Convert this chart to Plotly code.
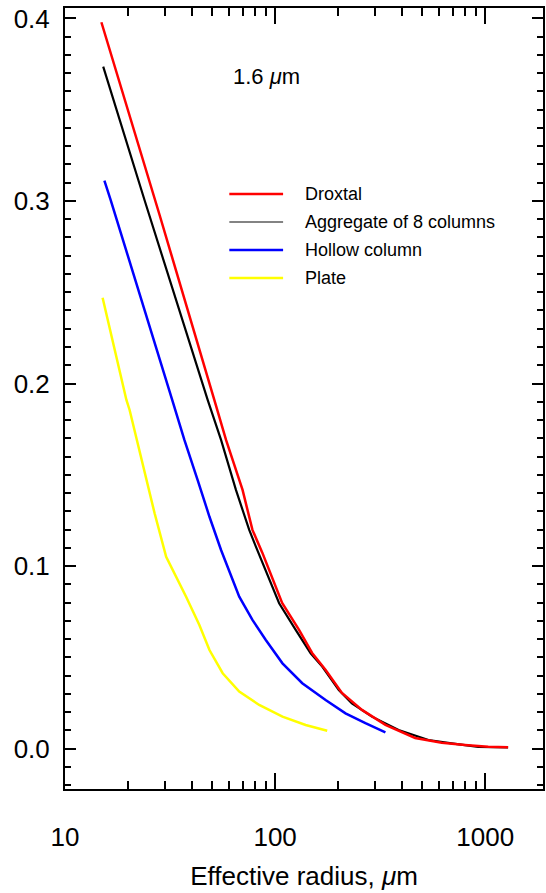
import plotly.graph_objects as go

# Effective radius (micrometres) and values for each ice-crystal habit at 1.6 um
droxtal_r = [14.9, 28.2, 51.4, 58.4, 70.0, 78.0, 87.0, 102.5, 108.0, 130.0, 150.0,
             174.0, 208.0, 259.0, 335.0, 464.0, 621.0, 801.0, 1033.0, 1285.0]
droxtal_v = [0.3979, 0.2923, 0.1909, 0.1691, 0.1417, 0.1198, 0.1072, 0.0869, 0.0798,
             0.0650, 0.0524, 0.0431, 0.0305, 0.0212, 0.0130, 0.0058, 0.0032, 0.0020,
             0.0010, 0.0007]

agg_r = [15.2, 23.9, 47.8, 55.3, 65.1, 75.3, 81.0, 98.9, 104.5, 125.3, 147.6,
         167.6, 201.0, 232.0, 289.0, 387.0, 537.0, 692.0, 927.0, 1285.0]
agg_v = [0.3736, 0.3005, 0.1909, 0.1691, 0.1417, 0.1198, 0.1106, 0.0869, 0.0796,
         0.0650, 0.0522, 0.0449, 0.0321, 0.0248, 0.0175, 0.0102, 0.0047, 0.0029,
         0.0010, 0.0007]

hollow_r = [15.4, 16.5, 32.4, 37.0, 42.8, 48.7, 55.3, 65.1, 67.5, 78.0, 90.3,
            108.4, 134.7, 173.9, 216.3, 269.0, 335.0]
hollow_v = [0.3111, 0.3005, 0.1909, 0.1691, 0.1471, 0.1270, 0.1088, 0.0869, 0.0832,
            0.0705, 0.0595, 0.0467, 0.0358, 0.0266, 0.0193, 0.0139, 0.0089]

plate_r = [15.1, 19.6, 20.3, 23.5, 26.7, 30.3, 32.0, 36.4, 37.7, 43.6, 48.7,
           56.3, 67.5, 84.0, 108.4, 139.7, 177.0]
plate_v = [0.2470, 0.1910, 0.1855, 0.1544, 0.1289, 0.1051, 0.0996, 0.0869, 0.0832,
           0.0677, 0.0540, 0.0413, 0.0312, 0.0239, 0.0175, 0.0129, 0.0098]

series_names = ["Droxtal", "Aggregate of 8 columns", "Hollow column", "Plate"]
series_colors = ["#ff0000", "#000000", "#0000ff", "#ffff00"]
legend_colors = ["#ff0000", "#5a5a5a", "#0000ff", "#ffff00"]

x_major = [10, 100, 1000]
x_minor = [20, 30, 40, 50, 60, 70, 80, 90, 200, 300, 400, 500, 600, 700, 800, 900]
y_major = [0.0, 0.1, 0.2, 0.3, 0.4]

FONT = "Liberation Sans, Arial, Helvetica, sans-serif"

fig = go.Figure()
# black first so the red droxtal curve sits on top where they overlap
draw = [
    (agg_r, agg_v, series_colors[1], 2.2),
    (droxtal_r, droxtal_v, series_colors[0], 2.5),
    (hollow_r, hollow_v, series_colors[2], 2.5),
    (plate_r, plate_v, series_colors[3], 2.5),
]
for r, v, c, w in draw:
    fig.add_trace(go.Scatter(x=r, y=v, mode="lines",
                             line=dict(color=c, width=w),
                             showlegend=False, hoverinfo="skip"))

# hand-placed legend: short line samples with labels
leg_y = [0.7618, 0.7260, 0.6901, 0.6543]
shapes = []
annotations = []
for i, name in enumerate(series_names):
    shapes.append(dict(type="line", xref="paper", yref="paper",
                       x0=0.34375, x1=0.45625, y0=leg_y[i], y1=leg_y[i],
                       line=dict(color=legend_colors[i], width=1.4 if i == 1 else 2.5)))
    annotations.append(dict(xref="paper", yref="paper", x=0.4979, y=leg_y[i],
                            xanchor="left", yanchor="middle", showarrow=False,
                            text=name, font=dict(family=FONT, size=18, color="black")))

annotations.append(dict(xref="paper", yref="paper", x=0.3479, y=0.9117,
                        xanchor="left", yanchor="middle", showarrow=False,
                        text="1.6 <i>\u03bc</i>m",
                        font=dict(family=FONT, size=22, color="black")))

fig.update_layout(
    width=546, height=893,
    margin=dict(l=65, r=1, t=8, b=104),
    paper_bgcolor="white", plot_bgcolor="white",
    font=dict(family=FONT, color="black"),
    shapes=shapes, annotations=annotations,
    showlegend=False,
)

fig.update_xaxes(
    type="log", range=[1, 3.275],
    showgrid=False, zeroline=False,
    showline=True, linecolor="black", linewidth=2, mirror="allticks",
    ticks="inside", ticklen=16, tickwidth=2, tickcolor="black",
    tickmode="array", tickvals=x_major, ticktext=[str(v) for v in x_major],
    tickfont=dict(family=FONT, size=26),
    ticklabelstandoff=24,
    minor=dict(tickmode="array", tickvals=x_minor, ticks="inside",
               ticklen=8, tickwidth=2, tickcolor="black", showgrid=False),
    title=dict(text="Effective radius, <i>\u03bc</i>m",
               font=dict(family=FONT, size=26), standoff=16),
)

fig.update_yaxes(
    range=[-0.02213, 0.4057],
    showgrid=False, zeroline=False,
    showline=True, linecolor="black", linewidth=2, mirror="allticks",
    ticks="inside", ticklen=11, tickwidth=2, tickcolor="black",
    tickmode="array", tickvals=y_major, ticktext=[f"{v:.1f}" for v in y_major],
    tickfont=dict(family=FONT, size=26),
    ticklabelstandoff=8,
    minor=dict(dtick=0.01, tick0=0, ticks="inside", ticklen=6, tickwidth=2,
               tickcolor="black", showgrid=False),
)

fig.write_html("out.html")
